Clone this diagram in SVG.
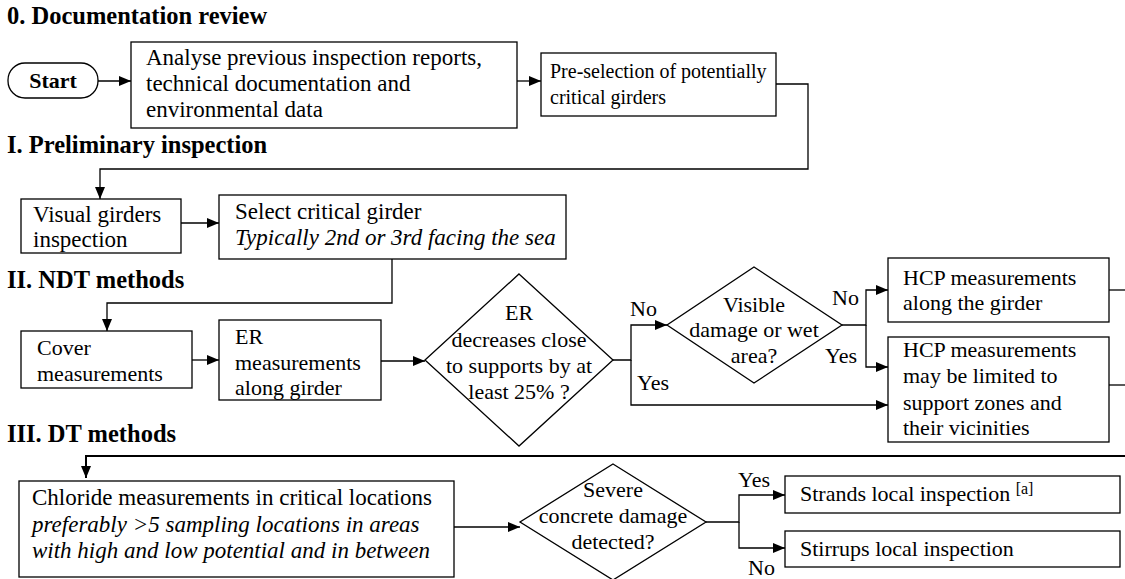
<svg xmlns="http://www.w3.org/2000/svg" width="1125" height="579" viewBox="0 0 1125 579">
<style>
text{font-family:"Liberation Serif","Times New Roman",serif;font-size:22px;fill:#000}
.t{font-weight:bold;font-size:24.5px}
.b{font-weight:bold}
.i{font-style:italic}
.c{text-anchor:middle}
.s20{font-size:20px}
.s23{font-size:23px}
.n{fill:#fff;stroke:#000;stroke-width:1.3}
.e{fill:none;stroke:#000;stroke-width:1.3}
.k{fill:none;stroke:#000;stroke-width:2}
</style>
<defs>
<marker id="a" markerWidth="12" markerHeight="10" refX="12" refY="5" orient="auto" markerUnits="userSpaceOnUse"><path d="M0,0L12,5L0,10z" fill="#000"/></marker>
</defs>
<rect width="1125" height="579" fill="#fff"/>
<text class="t" x="7" y="24">0. Documentation review</text>
<text class="t" x="7" y="153">I. Preliminary inspection</text>
<text class="t" x="7" y="288">II. NDT methods</text>
<text class="t" x="7" y="442">III. DT methods</text>
<g id="connectors">
<path class="e" d="M98,81H131" marker-end="url(#a)"/>
<path class="e" d="M517,81H541" marker-end="url(#a)"/>
<path class="e" d="M776,84H808V169H100V199" marker-end="url(#a)"/>
<path class="e" d="M181,223H219" marker-end="url(#a)"/>
<path class="e" d="M392,259V303H107V331" marker-end="url(#a)"/>
<path class="e" d="M192,360H219" marker-end="url(#a)"/>
<path class="e" d="M381,361H425" marker-end="url(#a)"/>
<path class="e" d="M613,360H631V325H667" marker-end="url(#a)"/>
<path class="e" d="M631,360V405H888" marker-end="url(#a)"/>
<path class="e" d="M842,325H866V290H888" marker-end="url(#a)"/>
<path class="e" d="M866,325V367H888" marker-end="url(#a)"/>
<path class="e" d="M1109,290H1125"/>
<path class="e" d="M1109,385H1125"/>
<path class="k" d="M1125,456H86V478" marker-end="url(#a)"/>
<path class="e" d="M454,527H520" marker-end="url(#a)"/>
<path class="e" d="M706,522H739V495H785" marker-end="url(#a)"/>
<path class="e" d="M739,522V548H785" marker-end="url(#a)"/>
<text x="630" y="316">No</text>
<text x="637" y="390">Yes</text>
<text x="832" y="305">No</text>
<text x="825" y="363">Yes</text>
<text x="738" y="487">Yes</text>
<text x="748" y="575">No</text>
</g>
<g id="start"><rect class="n" x="8" y="63" width="90" height="35" rx="17"/><text class="b c" x="53" y="88">Start</text></g>
<g id="analyse" class="s23"><rect class="n" x="131" y="42" width="386" height="86"/><text class="s23" x="146" y="65">Analyse previous inspection reports,</text><text class="s23" x="146" y="91">technical documentation and</text><text class="s23" x="146" y="117">environmental data</text></g>
<g id="preselection"><rect class="n" x="541" y="53" width="235" height="63"/><text class="s20" x="550" y="78">Pre-selection of potentially</text><text class="s20" x="550" y="104">critical girders</text></g>
<g id="visual"><rect class="n" x="21" y="199" width="160" height="54"/><text class="s23" x="33" y="222">Visual girders</text><text class="s23" x="33" y="247">inspection</text></g>
<g id="select"><rect class="n" x="219" y="195" width="347" height="64"/><text class="s23" x="235" y="219">Select critical girder</text><text class="i s23" x="235" y="245">Typically 2nd or 3rd facing the sea</text></g>
<g id="cover"><rect class="n" x="21" y="331" width="171" height="57"/><text x="37" y="355">Cover</text><text x="37" y="381">measurements</text></g>
<g id="er"><rect class="n" x="219" y="320" width="162" height="80"/><text x="235" y="344">ER</text><text x="235" y="370">measurements</text><text x="235" y="395">along girder</text></g>
<g id="erdecision"><path class="n" d="M519,274L613,360L519,446L425,360Z"/><text class="c" x="519" y="320">ER</text><text class="c" x="519" y="347">decreases close</text><text class="c" x="519" y="373">to supports by at</text><text class="c" x="519" y="399">least 25% ?</text></g>
<g id="visible"><path class="n" d="M754,267L842,325L754,383L667,325Z"/><text class="c" x="754" y="312">Visible</text><text class="c" x="754" y="337">damage or wet</text><text class="c" x="754" y="363">area?</text></g>
<g id="hcp1"><rect class="n" x="888" y="258" width="221" height="64"/><text x="903" y="285">HCP measurements</text><text x="903" y="310">along the girder</text></g>
<g id="hcp2"><rect class="n" x="888" y="337" width="221" height="105"/><text x="903" y="357">HCP measurements</text><text x="903" y="383">may be limited to</text><text x="903" y="410">support zones and</text><text x="903" y="435">their vicinities</text></g>
<g id="chloride"><rect class="n" x="19" y="481" width="435" height="96"/><text class="s23" x="32" y="505">Chloride measurements in critical locations</text><text class="i s23" x="32" y="532">preferably &gt;5 sampling locations in areas</text><text class="i s23" x="32" y="558">with high and low potential and in between</text></g>
<g id="severe"><path class="n" d="M613,464L706,522L613,580L520,522Z"/><text class="c" x="613" y="497">Severe</text><text class="c" x="613" y="523">concrete damage</text><text class="c" x="613" y="549">detected?</text></g>
<g id="strands"><rect class="n" x="785" y="476" width="335" height="37"/><text x="800" y="501">Strands local inspection <tspan font-size="16" dy="-7">[a]</tspan></text></g>
<g id="stirrups"><rect class="n" x="785" y="531" width="335" height="36"/><text x="800" y="556">Stirrups local inspection</text></g>
</svg>
